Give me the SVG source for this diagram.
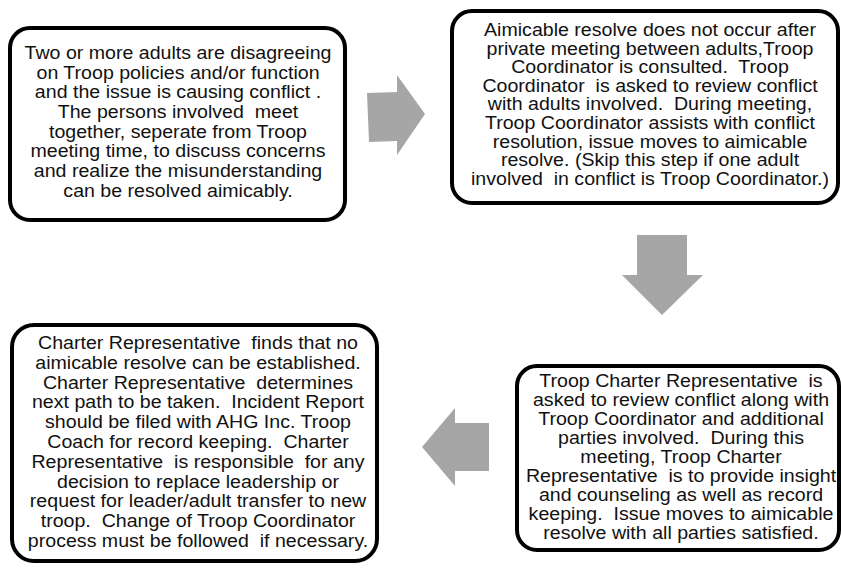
<svg xmlns="http://www.w3.org/2000/svg" width="841" height="568" viewBox="0 0 841 568">
<style>
.box{fill:#fff;stroke:#000;stroke-width:4}
.t{font-family:"Liberation Sans",Arial,sans-serif;font-size:17.5px;fill:#111;text-anchor:middle}
.arr{fill:#a6a6a6}
</style>
<rect width="841" height="568" fill="#fff"/>
<g id="connectors">
<polygon class="arr" points="367,93 397,92 397,75 425,114 397,155 397,141 369,142"/>
<polygon class="arr" points="637,235 687,235 687,275 703,275 662,315 622,275 637,275"/>
<polygon class="arr" points="489,423 455,423 455,408 422,447 455,486 455,471 489,471"/>
</g>
<g id="step1">
<rect class="box" x="10" y="28" width="335" height="192" rx="20"/>
<g transform="translate(178,0) scale(1.12,1)">
<text class="t" xml:space="preserve"><tspan x="0" y="59">Two or more adults are disagreeing</tspan><tspan x="0" y="78.7">on Troop policies and/or function</tspan><tspan x="0" y="98.4">and the issue is causing conflict .</tspan><tspan x="0" y="118.1">The persons involved  meet</tspan><tspan x="0" y="137.8">together, seperate from Troop</tspan><tspan x="0" y="157.5">meeting time, to discuss concerns</tspan><tspan x="0" y="177.2">and realize the misunderstanding</tspan><tspan x="0" y="196.9">can be resolved aimicably.</tspan></text>
</g>
</g>
<g id="step2">
<rect class="box" x="452" y="11" width="386" height="192" rx="20"/>
<g transform="translate(650,0) scale(1.12,1)">
<text class="t" xml:space="preserve"><tspan x="0" y="36">Aimicable resolve does not occur after</tspan><tspan x="0" y="54.6">private meeting between adults,Troop</tspan><tspan x="0" y="73.2">Coordinator is consulted.  Troop</tspan><tspan x="0" y="91.8">Coordinator  is asked to review conflict</tspan><tspan x="0" y="110.4">with adults involved.  During meeting,</tspan><tspan x="0" y="129">Troop Coordinator assists with conflict</tspan><tspan x="0" y="147.6">resolution, issue moves to aimicable</tspan><tspan x="0" y="166.2">resolve. (Skip this step if one adult</tspan><tspan x="0" y="184.8">involved  in conflict is Troop Coordinator.)</tspan></text>
</g>
</g>
<g id="step3">
<rect class="box" x="517" y="366" width="322" height="184" rx="20"/>
<g transform="translate(681,0) scale(1.12,1)">
<text class="t" xml:space="preserve"><tspan x="0" y="387">Troop Charter Representative  is</tspan><tspan x="0" y="406">asked to review conflict along with</tspan><tspan x="0" y="425">Troop Coordinator and additional</tspan><tspan x="0" y="444">parties involved.  During this</tspan><tspan x="0" y="463">meeting, Troop Charter</tspan><tspan x="0" y="482">Representative  is to provide insight</tspan><tspan x="0" y="501">and counseling as well as record</tspan><tspan x="0" y="520">keeping.  Issue moves to aimicable</tspan><tspan x="0" y="539">resolve with all parties satisfied.</tspan></text>
</g>
</g>
<g id="step4">
<rect class="box" x="12" y="325" width="365" height="236" rx="22"/>
<g transform="translate(198,0) scale(1.12,1)">
<text class="t" xml:space="preserve"><tspan x="0" y="349">Charter Representative  finds that no</tspan><tspan x="0" y="368.8">aimicable resolve can be established.</tspan><tspan x="0" y="388.6">Charter Representative  determines</tspan><tspan x="0" y="408.4">next path to be taken.  Incident Report</tspan><tspan x="0" y="428.2">should be filed with AHG Inc. Troop</tspan><tspan x="0" y="448">Coach for record keeping.  Charter</tspan><tspan x="0" y="467.8">Representative  is responsible  for any</tspan><tspan x="0" y="487.6">decision to replace leadership or</tspan><tspan x="0" y="507.4">request for leader/adult transfer to new</tspan><tspan x="0" y="527.2">troop.  Change of Troop Coordinator</tspan><tspan x="0" y="547">process must be followed  if necessary.</tspan></text>
</g>
</g>
</svg>
